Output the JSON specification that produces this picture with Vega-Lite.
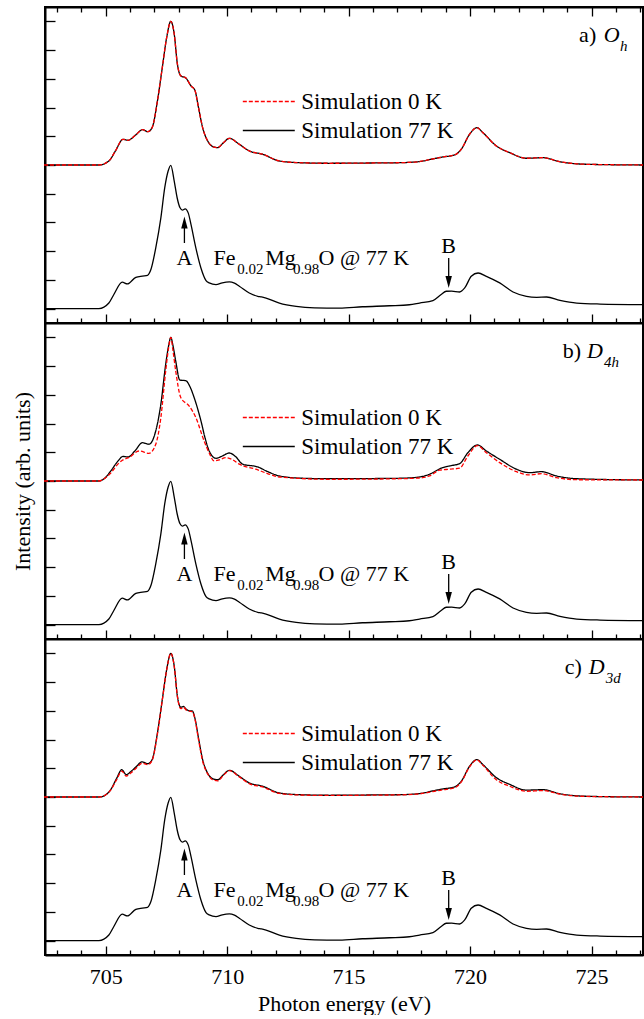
{
"$schema": "https://vega.github.io/schema/vega-lite/v6.json",
"background": "white",
"padding": {"left": 10, "top": 5, "right": 0, "bottom": 0},
"spacing": 0,
"bounds": "flush",
"config": {
  "font": "Liberation Serif, Times New Roman, Times, serif",
  "view": {"stroke": "black", "strokeWidth": 2},
  "axis": {"domainColor": "black", "domainWidth": 2, "tickColor": "black", "tickWidth": 1.3, "grid": false, "tickCount": 100,
           "labelFont": "Liberation Serif, Times New Roman, Times, serif", "labelFontSize": 22, "labelColor": "black",
           "titleFont": "Liberation Serif, Times New Roman, Times, serif", "titleFontSize": 22, "titleFontWeight": "normal", "titleColor": "black"},
  "legend": {"labelFont": "Liberation Serif, Times New Roman, Times, serif"},
  "text": {"font": "Liberation Serif, Times New Roman, Times, serif", "color": "black"}
},
"resolve": {"scale": {"color": "independent", "strokeDash": "independent"}},
"datasets": {
  "exp": [
    {"e":702.46,"i":0},{"e":704.72,"i":0},{"e":705.13,"i":0.039},{"e":705.34,"i":0.10},{"e":705.68,"i":0.184},{"e":705.89,"i":0.172},{"e":706.24,"i":0.218},{"e":706.51,"i":0.227},{"e":706.72,"i":0.232},{"e":706.86,"i":0.272},{"e":707.06,"i":0.423},{"e":707.27,"i":0.632},{"e":707.43,"i":0.842},{"e":707.57,"i":0.958},{"e":707.68,"i":0.998},{"e":707.82,"i":0.888},{"e":707.94,"i":0.772},{"e":708.06,"i":0.702},{"e":708.16,"i":0.686},{"e":708.27,"i":0.695},{"e":708.4,"i":0.665},{"e":708.51,"i":0.586},{"e":708.71,"i":0.423},{"e":708.92,"i":0.283},{"e":709.13,"i":0.195},{"e":709.26,"i":0.179},{"e":709.54,"i":0.167},{"e":709.8,"i":0.18},{"e":710.09,"i":0.186},{"e":710.3,"i":0.177},{"e":710.5,"i":0.156},{"e":710.91,"i":0.109},{"e":711.26,"i":0.086},{"e":711.41,"i":0.082},{"e":711.6,"i":0.074},{"e":712.15,"i":0.039},{"e":712.84,"i":0.016},{"e":713.6,"i":0.006},{"e":714.62,"i":0.004},{"e":715.57,"i":0.013},{"e":716.68,"i":0.02},{"e":717.5,"i":0.027},{"e":717.92,"i":0.039},{"e":718.47,"i":0.056},{"e":718.81,"i":0.098},{"e":719.02,"i":0.121},{"e":719.24,"i":0.122},{"e":719.57,"i":0.116},{"e":719.78,"i":0.144},{"e":720.05,"i":0.225},{"e":720.33,"i":0.248},{"e":720.67,"i":0.225},{"e":721.22,"i":0.179},{"e":721.77,"i":0.116},{"e":722.32,"i":0.086},{"e":722.74,"i":0.079},{"e":723.15,"i":0.081},{"e":723.7,"i":0.058},{"e":724.39,"i":0.039},{"e":725.35,"i":0.032},{"e":727.12,"i":0.028}
  ],
  "sim": [
    {"p":"a","s":"Simulation 77 K","e":702.46,"i":1.0},{"p":"a","s":"Simulation 77 K","e":704.72,"i":1.0},{"p":"a","s":"Simulation 77 K","e":705.13,"i":1.028},{"p":"a","s":"Simulation 77 K","e":705.4,"i":1.098},{"p":"a","s":"Simulation 77 K","e":705.71,"i":1.179},{"p":"a","s":"Simulation 77 K","e":705.92,"i":1.172},{"p":"a","s":"Simulation 77 K","e":706.22,"i":1.207},{"p":"a","s":"Simulation 77 K","e":706.52,"i":1.246},{"p":"a","s":"Simulation 77 K","e":706.73,"i":1.232},{"p":"a","s":"Simulation 77 K","e":706.91,"i":1.26},{"p":"a","s":"Simulation 77 K","e":707.13,"i":1.447},{"p":"a","s":"Simulation 77 K","e":707.33,"i":1.679},{"p":"a","s":"Simulation 77 K","e":707.51,"i":1.888},{"p":"a","s":"Simulation 77 K","e":707.68,"i":2.0},{"p":"a","s":"Simulation 77 K","e":707.82,"i":1.912},{"p":"a","s":"Simulation 77 K","e":707.95,"i":1.703},{"p":"a","s":"Simulation 77 K","e":708.09,"i":1.621},{"p":"a","s":"Simulation 77 K","e":708.3,"i":1.605},{"p":"a","s":"Simulation 77 K","e":708.51,"i":1.551},{"p":"a","s":"Simulation 77 K","e":708.67,"i":1.521},{"p":"a","s":"Simulation 77 K","e":708.82,"i":1.4},{"p":"a","s":"Simulation 77 K","e":708.99,"i":1.26},{"p":"a","s":"Simulation 77 K","e":709.2,"i":1.167},{"p":"a","s":"Simulation 77 K","e":709.4,"i":1.129},{"p":"a","s":"Simulation 77 K","e":709.61,"i":1.121},{"p":"a","s":"Simulation 77 K","e":709.84,"i":1.154},{"p":"a","s":"Simulation 77 K","e":710.09,"i":1.186},{"p":"a","s":"Simulation 77 K","e":710.5,"i":1.144},{"p":"a","s":"Simulation 77 K","e":710.91,"i":1.098},{"p":"a","s":"Simulation 77 K","e":711.46,"i":1.075},{"p":"a","s":"Simulation 77 K","e":712.15,"i":1.028},{"p":"a","s":"Simulation 77 K","e":712.98,"i":1.016},{"p":"a","s":"Simulation 77 K","e":714.22,"i":1.012},{"p":"a","s":"Simulation 77 K","e":715.87,"i":1.014},{"p":"a","s":"Simulation 77 K","e":717.1,"i":1.016},{"p":"a","s":"Simulation 77 K","e":717.92,"i":1.024},{"p":"a","s":"Simulation 77 K","e":718.54,"i":1.045},{"p":"a","s":"Simulation 77 K","e":718.88,"i":1.056},{"p":"a","s":"Simulation 77 K","e":719.36,"i":1.07},{"p":"a","s":"Simulation 77 K","e":719.64,"i":1.11},{"p":"a","s":"Simulation 77 K","e":719.98,"i":1.214},{"p":"a","s":"Simulation 77 K","e":720.28,"i":1.26},{"p":"a","s":"Simulation 77 K","e":720.53,"i":1.225},{"p":"a","s":"Simulation 77 K","e":721.08,"i":1.133},{"p":"a","s":"Simulation 77 K","e":721.63,"i":1.086},{"p":"a","s":"Simulation 77 K","e":722.32,"i":1.047},{"p":"a","s":"Simulation 77 K","e":723.0,"i":1.051},{"p":"a","s":"Simulation 77 K","e":723.69,"i":1.023},{"p":"a","s":"Simulation 77 K","e":724.79,"i":1.005},{"p":"a","s":"Simulation 77 K","e":727.12,"i":1.0},
    {"p":"a","s":"Simulation 0 K","e":702.46,"i":1.0},{"p":"a","s":"Simulation 0 K","e":704.72,"i":1.0},{"p":"a","s":"Simulation 0 K","e":705.13,"i":1.028},{"p":"a","s":"Simulation 0 K","e":705.4,"i":1.098},{"p":"a","s":"Simulation 0 K","e":705.71,"i":1.179},{"p":"a","s":"Simulation 0 K","e":705.92,"i":1.172},{"p":"a","s":"Simulation 0 K","e":706.22,"i":1.207},{"p":"a","s":"Simulation 0 K","e":706.52,"i":1.246},{"p":"a","s":"Simulation 0 K","e":706.73,"i":1.232},{"p":"a","s":"Simulation 0 K","e":706.91,"i":1.26},{"p":"a","s":"Simulation 0 K","e":707.13,"i":1.447},{"p":"a","s":"Simulation 0 K","e":707.33,"i":1.679},{"p":"a","s":"Simulation 0 K","e":707.51,"i":1.888},{"p":"a","s":"Simulation 0 K","e":707.68,"i":2.0},{"p":"a","s":"Simulation 0 K","e":707.82,"i":1.912},{"p":"a","s":"Simulation 0 K","e":707.95,"i":1.703},{"p":"a","s":"Simulation 0 K","e":708.09,"i":1.621},{"p":"a","s":"Simulation 0 K","e":708.3,"i":1.605},{"p":"a","s":"Simulation 0 K","e":708.51,"i":1.551},{"p":"a","s":"Simulation 0 K","e":708.67,"i":1.521},{"p":"a","s":"Simulation 0 K","e":708.82,"i":1.4},{"p":"a","s":"Simulation 0 K","e":708.99,"i":1.26},{"p":"a","s":"Simulation 0 K","e":709.2,"i":1.167},{"p":"a","s":"Simulation 0 K","e":709.4,"i":1.129},{"p":"a","s":"Simulation 0 K","e":709.61,"i":1.121},{"p":"a","s":"Simulation 0 K","e":709.84,"i":1.154},{"p":"a","s":"Simulation 0 K","e":710.09,"i":1.186},{"p":"a","s":"Simulation 0 K","e":710.5,"i":1.144},{"p":"a","s":"Simulation 0 K","e":710.91,"i":1.098},{"p":"a","s":"Simulation 0 K","e":711.46,"i":1.075},{"p":"a","s":"Simulation 0 K","e":712.15,"i":1.028},{"p":"a","s":"Simulation 0 K","e":712.98,"i":1.016},{"p":"a","s":"Simulation 0 K","e":714.22,"i":1.012},{"p":"a","s":"Simulation 0 K","e":715.87,"i":1.014},{"p":"a","s":"Simulation 0 K","e":717.1,"i":1.016},{"p":"a","s":"Simulation 0 K","e":717.92,"i":1.024},{"p":"a","s":"Simulation 0 K","e":718.54,"i":1.045},{"p":"a","s":"Simulation 0 K","e":718.88,"i":1.056},{"p":"a","s":"Simulation 0 K","e":719.36,"i":1.07},{"p":"a","s":"Simulation 0 K","e":719.64,"i":1.11},{"p":"a","s":"Simulation 0 K","e":719.98,"i":1.214},{"p":"a","s":"Simulation 0 K","e":720.28,"i":1.26},{"p":"a","s":"Simulation 0 K","e":720.53,"i":1.225},{"p":"a","s":"Simulation 0 K","e":721.08,"i":1.133},{"p":"a","s":"Simulation 0 K","e":721.63,"i":1.086},{"p":"a","s":"Simulation 0 K","e":722.32,"i":1.047},{"p":"a","s":"Simulation 0 K","e":723.0,"i":1.051},{"p":"a","s":"Simulation 0 K","e":723.69,"i":1.023},{"p":"a","s":"Simulation 0 K","e":724.79,"i":1.005},{"p":"a","s":"Simulation 0 K","e":727.12,"i":1.0},
    {"p":"b","s":"Simulation 77 K","e":702.46,"i":1.0},{"p":"b","s":"Simulation 77 K","e":704.72,"i":1.0},{"p":"b","s":"Simulation 77 K","e":704.92,"i":1.014},{"p":"b","s":"Simulation 77 K","e":705.21,"i":1.07},{"p":"b","s":"Simulation 77 K","e":705.51,"i":1.14},{"p":"b","s":"Simulation 77 K","e":705.71,"i":1.171},{"p":"b","s":"Simulation 77 K","e":705.92,"i":1.167},{"p":"b","s":"Simulation 77 K","e":706.2,"i":1.209},{"p":"b","s":"Simulation 77 K","e":706.51,"i":1.267},{"p":"b","s":"Simulation 77 K","e":706.78,"i":1.256},{"p":"b","s":"Simulation 77 K","e":707.06,"i":1.349},{"p":"b","s":"Simulation 77 K","e":707.27,"i":1.535},{"p":"b","s":"Simulation 77 K","e":707.47,"i":1.814},{"p":"b","s":"Simulation 77 K","e":707.59,"i":1.942},{"p":"b","s":"Simulation 77 K","e":707.68,"i":2.0},{"p":"b","s":"Simulation 77 K","e":707.77,"i":1.942},{"p":"b","s":"Simulation 77 K","e":707.88,"i":1.837},{"p":"b","s":"Simulation 77 K","e":708.05,"i":1.703},{"p":"b","s":"Simulation 77 K","e":708.3,"i":1.698},{"p":"b","s":"Simulation 77 K","e":708.47,"i":1.656},{"p":"b","s":"Simulation 77 K","e":708.64,"i":1.581},{"p":"b","s":"Simulation 77 K","e":708.92,"i":1.419},{"p":"b","s":"Simulation 77 K","e":709.1,"i":1.293},{"p":"b","s":"Simulation 77 K","e":709.26,"i":1.209},{"p":"b","s":"Simulation 77 K","e":709.54,"i":1.158},{"p":"b","s":"Simulation 77 K","e":709.8,"i":1.174},{"p":"b","s":"Simulation 77 K","e":710.09,"i":1.195},{"p":"b","s":"Simulation 77 K","e":710.34,"i":1.171},{"p":"b","s":"Simulation 77 K","e":710.64,"i":1.117},{"p":"b","s":"Simulation 77 K","e":711.26,"i":1.098},{"p":"b","s":"Simulation 77 K","e":711.66,"i":1.066},{"p":"b","s":"Simulation 77 K","e":712.15,"i":1.035},{"p":"b","s":"Simulation 77 K","e":713.11,"i":1.019},{"p":"b","s":"Simulation 77 K","e":714.22,"i":1.016},{"p":"b","s":"Simulation 77 K","e":715.87,"i":1.017},{"p":"b","s":"Simulation 77 K","e":717.1,"i":1.019},{"p":"b","s":"Simulation 77 K","e":717.92,"i":1.028},{"p":"b","s":"Simulation 77 K","e":718.33,"i":1.047},{"p":"b","s":"Simulation 77 K","e":718.81,"i":1.089},{"p":"b","s":"Simulation 77 K","e":719.16,"i":1.105},{"p":"b","s":"Simulation 77 K","e":719.57,"i":1.121},{"p":"b","s":"Simulation 77 K","e":719.91,"i":1.197},{"p":"b","s":"Simulation 77 K","e":720.3,"i":1.251},{"p":"b","s":"Simulation 77 K","e":720.67,"i":1.209},{"p":"b","s":"Simulation 77 K","e":721.22,"i":1.151},{"p":"b","s":"Simulation 77 K","e":721.91,"i":1.082},{"p":"b","s":"Simulation 77 K","e":722.45,"i":1.058},{"p":"b","s":"Simulation 77 K","e":722.94,"i":1.065},{"p":"b","s":"Simulation 77 K","e":723.56,"i":1.035},{"p":"b","s":"Simulation 77 K","e":724.38,"i":1.016},{"p":"b","s":"Simulation 77 K","e":727.12,"i":1.007},
    {"p":"b","s":"Simulation 0 K","e":702.46,"i":1.0},{"p":"b","s":"Simulation 0 K","e":704.72,"i":1.0},{"p":"b","s":"Simulation 0 K","e":704.92,"i":1.014},{"p":"b","s":"Simulation 0 K","e":705.21,"i":1.056},{"p":"b","s":"Simulation 0 K","e":705.51,"i":1.119},{"p":"b","s":"Simulation 0 K","e":705.71,"i":1.147},{"p":"b","s":"Simulation 0 K","e":705.96,"i":1.164},{"p":"b","s":"Simulation 0 K","e":706.37,"i":1.209},{"p":"b","s":"Simulation 0 K","e":706.78,"i":1.193},{"p":"b","s":"Simulation 0 K","e":707.06,"i":1.256},{"p":"b","s":"Simulation 0 K","e":707.27,"i":1.442},{"p":"b","s":"Simulation 0 K","e":707.47,"i":1.768},{"p":"b","s":"Simulation 0 K","e":707.59,"i":1.928},{"p":"b","s":"Simulation 0 K","e":707.68,"i":2.0},{"p":"b","s":"Simulation 0 K","e":707.77,"i":1.907},{"p":"b","s":"Simulation 0 K","e":707.88,"i":1.768},{"p":"b","s":"Simulation 0 K","e":708.09,"i":1.581},{"p":"b","s":"Simulation 0 K","e":708.43,"i":1.523},{"p":"b","s":"Simulation 0 K","e":708.71,"i":1.442},{"p":"b","s":"Simulation 0 K","e":709.05,"i":1.279},{"p":"b","s":"Simulation 0 K","e":709.26,"i":1.195},{"p":"b","s":"Simulation 0 K","e":709.46,"i":1.14},{"p":"b","s":"Simulation 0 K","e":709.67,"i":1.147},{"p":"b","s":"Simulation 0 K","e":709.94,"i":1.163},{"p":"b","s":"Simulation 0 K","e":710.2,"i":1.15},{"p":"b","s":"Simulation 0 K","e":710.5,"i":1.117},{"p":"b","s":"Simulation 0 K","e":711.18,"i":1.082},{"p":"b","s":"Simulation 0 K","e":711.66,"i":1.052},{"p":"b","s":"Simulation 0 K","e":712.15,"i":1.028},{"p":"b","s":"Simulation 0 K","e":714.22,"i":1.012},{"p":"b","s":"Simulation 0 K","e":717.1,"i":1.016},{"p":"b","s":"Simulation 0 K","e":717.92,"i":1.021},{"p":"b","s":"Simulation 0 K","e":718.33,"i":1.035},{"p":"b","s":"Simulation 0 K","e":718.74,"i":1.075},{"p":"b","s":"Simulation 0 K","e":719.16,"i":1.082},{"p":"b","s":"Simulation 0 K","e":719.57,"i":1.089},{"p":"b","s":"Simulation 0 K","e":719.91,"i":1.174},{"p":"b","s":"Simulation 0 K","e":720.3,"i":1.246},{"p":"b","s":"Simulation 0 K","e":720.67,"i":1.197},{"p":"b","s":"Simulation 0 K","e":721.22,"i":1.128},{"p":"b","s":"Simulation 0 K","e":721.91,"i":1.065},{"p":"b","s":"Simulation 0 K","e":722.45,"i":1.042},{"p":"b","s":"Simulation 0 K","e":722.94,"i":1.051},{"p":"b","s":"Simulation 0 K","e":723.56,"i":1.023},{"p":"b","s":"Simulation 0 K","e":724.38,"i":1.009},{"p":"b","s":"Simulation 0 K","e":727.12,"i":1.007},
    {"p":"c","s":"Simulation 77 K","e":702.46,"i":1.0},{"p":"c","s":"Simulation 77 K","e":704.72,"i":1.0},{"p":"c","s":"Simulation 77 K","e":704.95,"i":1.01},{"p":"c","s":"Simulation 77 K","e":705.2,"i":1.05},{"p":"c","s":"Simulation 77 K","e":705.45,"i":1.13},{"p":"c","s":"Simulation 77 K","e":705.66,"i":1.19},{"p":"c","s":"Simulation 77 K","e":705.85,"i":1.155},{"p":"c","s":"Simulation 77 K","e":706.02,"i":1.175},{"p":"c","s":"Simulation 77 K","e":706.25,"i":1.21},{"p":"c","s":"Simulation 77 K","e":706.5,"i":1.245},{"p":"c","s":"Simulation 77 K","e":706.73,"i":1.232},{"p":"c","s":"Simulation 77 K","e":706.91,"i":1.26},{"p":"c","s":"Simulation 77 K","e":707.13,"i":1.447},{"p":"c","s":"Simulation 77 K","e":707.33,"i":1.679},{"p":"c","s":"Simulation 77 K","e":707.51,"i":1.888},{"p":"c","s":"Simulation 77 K","e":707.68,"i":2.0},{"p":"c","s":"Simulation 77 K","e":707.82,"i":1.912},{"p":"c","s":"Simulation 77 K","e":707.95,"i":1.703},{"p":"c","s":"Simulation 77 K","e":708.09,"i":1.625},{"p":"c","s":"Simulation 77 K","e":708.2,"i":1.63},{"p":"c","s":"Simulation 77 K","e":708.32,"i":1.61},{"p":"c","s":"Simulation 77 K","e":708.45,"i":1.6},{"p":"c","s":"Simulation 77 K","e":708.56,"i":1.6},{"p":"c","s":"Simulation 77 K","e":708.67,"i":1.55},{"p":"c","s":"Simulation 77 K","e":708.82,"i":1.41},{"p":"c","s":"Simulation 77 K","e":708.99,"i":1.26},{"p":"c","s":"Simulation 77 K","e":709.2,"i":1.165},{"p":"c","s":"Simulation 77 K","e":709.4,"i":1.128},{"p":"c","s":"Simulation 77 K","e":709.61,"i":1.12},{"p":"c","s":"Simulation 77 K","e":709.84,"i":1.154},{"p":"c","s":"Simulation 77 K","e":710.09,"i":1.186},{"p":"c","s":"Simulation 77 K","e":710.5,"i":1.144},{"p":"c","s":"Simulation 77 K","e":710.91,"i":1.098},{"p":"c","s":"Simulation 77 K","e":711.46,"i":1.075},{"p":"c","s":"Simulation 77 K","e":712.15,"i":1.028},{"p":"c","s":"Simulation 77 K","e":712.98,"i":1.016},{"p":"c","s":"Simulation 77 K","e":714.22,"i":1.012},{"p":"c","s":"Simulation 77 K","e":715.87,"i":1.014},{"p":"c","s":"Simulation 77 K","e":717.1,"i":1.016},{"p":"c","s":"Simulation 77 K","e":717.92,"i":1.024},{"p":"c","s":"Simulation 77 K","e":718.54,"i":1.045},{"p":"c","s":"Simulation 77 K","e":718.88,"i":1.056},{"p":"c","s":"Simulation 77 K","e":719.36,"i":1.07},{"p":"c","s":"Simulation 77 K","e":719.64,"i":1.11},{"p":"c","s":"Simulation 77 K","e":719.98,"i":1.214},{"p":"c","s":"Simulation 77 K","e":720.28,"i":1.26},{"p":"c","s":"Simulation 77 K","e":720.53,"i":1.225},{"p":"c","s":"Simulation 77 K","e":721.08,"i":1.135},{"p":"c","s":"Simulation 77 K","e":721.63,"i":1.088},{"p":"c","s":"Simulation 77 K","e":722.32,"i":1.048},{"p":"c","s":"Simulation 77 K","e":723.0,"i":1.051},{"p":"c","s":"Simulation 77 K","e":723.69,"i":1.023},{"p":"c","s":"Simulation 77 K","e":724.79,"i":1.005},{"p":"c","s":"Simulation 77 K","e":727.12,"i":1.0},
    {"p":"c","s":"Simulation 0 K","e":702.46,"i":1.0},{"p":"c","s":"Simulation 0 K","e":704.72,"i":1.0},{"p":"c","s":"Simulation 0 K","e":704.95,"i":1.01},{"p":"c","s":"Simulation 0 K","e":705.2,"i":1.048},{"p":"c","s":"Simulation 0 K","e":705.45,"i":1.12},{"p":"c","s":"Simulation 0 K","e":705.66,"i":1.18},{"p":"c","s":"Simulation 0 K","e":705.85,"i":1.145},{"p":"c","s":"Simulation 0 K","e":706.02,"i":1.165},{"p":"c","s":"Simulation 0 K","e":706.25,"i":1.2},{"p":"c","s":"Simulation 0 K","e":706.5,"i":1.235},{"p":"c","s":"Simulation 0 K","e":706.73,"i":1.225},{"p":"c","s":"Simulation 0 K","e":706.91,"i":1.255},{"p":"c","s":"Simulation 0 K","e":707.13,"i":1.44},{"p":"c","s":"Simulation 0 K","e":707.33,"i":1.675},{"p":"c","s":"Simulation 0 K","e":707.51,"i":1.885},{"p":"c","s":"Simulation 0 K","e":707.68,"i":2.0},{"p":"c","s":"Simulation 0 K","e":707.82,"i":1.91},{"p":"c","s":"Simulation 0 K","e":707.95,"i":1.7},{"p":"c","s":"Simulation 0 K","e":708.09,"i":1.615},{"p":"c","s":"Simulation 0 K","e":708.2,"i":1.625},{"p":"c","s":"Simulation 0 K","e":708.32,"i":1.605},{"p":"c","s":"Simulation 0 K","e":708.45,"i":1.598},{"p":"c","s":"Simulation 0 K","e":708.56,"i":1.595},{"p":"c","s":"Simulation 0 K","e":708.67,"i":1.545},{"p":"c","s":"Simulation 0 K","e":708.82,"i":1.4},{"p":"c","s":"Simulation 0 K","e":708.99,"i":1.25},{"p":"c","s":"Simulation 0 K","e":709.2,"i":1.16},{"p":"c","s":"Simulation 0 K","e":709.4,"i":1.12},{"p":"c","s":"Simulation 0 K","e":709.61,"i":1.112},{"p":"c","s":"Simulation 0 K","e":709.84,"i":1.15},{"p":"c","s":"Simulation 0 K","e":710.09,"i":1.184},{"p":"c","s":"Simulation 0 K","e":710.5,"i":1.14},{"p":"c","s":"Simulation 0 K","e":710.91,"i":1.093},{"p":"c","s":"Simulation 0 K","e":711.46,"i":1.07},{"p":"c","s":"Simulation 0 K","e":712.15,"i":1.025},{"p":"c","s":"Simulation 0 K","e":712.98,"i":1.014},{"p":"c","s":"Simulation 0 K","e":714.22,"i":1.011},{"p":"c","s":"Simulation 0 K","e":715.87,"i":1.013},{"p":"c","s":"Simulation 0 K","e":717.1,"i":1.015},{"p":"c","s":"Simulation 0 K","e":717.92,"i":1.022},{"p":"c","s":"Simulation 0 K","e":718.54,"i":1.04},{"p":"c","s":"Simulation 0 K","e":718.88,"i":1.05},{"p":"c","s":"Simulation 0 K","e":719.36,"i":1.064},{"p":"c","s":"Simulation 0 K","e":719.64,"i":1.105},{"p":"c","s":"Simulation 0 K","e":719.98,"i":1.21},{"p":"c","s":"Simulation 0 K","e":720.28,"i":1.258},{"p":"c","s":"Simulation 0 K","e":720.53,"i":1.22},{"p":"c","s":"Simulation 0 K","e":721.08,"i":1.12},{"p":"c","s":"Simulation 0 K","e":721.63,"i":1.075},{"p":"c","s":"Simulation 0 K","e":722.32,"i":1.04},{"p":"c","s":"Simulation 0 K","e":723.0,"i":1.045},{"p":"c","s":"Simulation 0 K","e":723.69,"i":1.02},{"p":"c","s":"Simulation 0 K","e":724.79,"i":1.004},{"p":"c","s":"Simulation 0 K","e":727.12,"i":1.0}
  ],
  "letters": [{"e":708.24,"i":0.306,"t":"A"},{"e":719.12,"i":0.387,"t":"B"}],
  "notes": [{"e":709.44,"i":0.306,"t":"Fe"},{"e":711.57,"i":0.306,"t":"Mg"},{"e":713.76,"i":0.306,"t":"O @ 77 K"}],
  "subs": [{"e":710.42,"i":0.24,"t":"0.02"},{"e":712.71,"i":0.24,"t":"0.98"}],
  "shafts": [{"e":708.24,"i":0.457,"i2":0.6},{"e":719.12,"i":0.352,"i2":0.19}],
  "headsUp": [{"e":708.24,"i":0.642}],
  "headsDown": [{"e":719.12,"i":0.143}],
  "plabels": [{"p":"a","e":724.49,"i":1.854,"t":"a)"},{"p":"b","e":723.82,"i":1.854,"t":"b)"},{"p":"c","e":723.9,"i":1.854,"t":"c)"}],
  "psymbols": [{"p":"a","e":725.5,"i":1.854,"t":"O"},{"p":"b","e":724.81,"i":1.854,"t":"D"},{"p":"c","e":724.89,"i":1.854,"t":"D"}],
  "psubs": [{"p":"a","e":726.17,"i":1.792,"t":"h"},{"p":"b","e":725.51,"i":1.792,"t":"4h"},{"p":"c","e":725.59,"i":1.792,"t":"3d"}]
},
"vconcat": [
  {
    "width": 598, "height": 316,
    "resolve": {"axis": {"x": "independent"}},
    "layer": [
      {"data": {"name": "exp"}, "mark": {"type": "line", "color": "black", "strokeWidth": 1.3, "interpolate": "monotone"},
       "encoding": {
         "x": {"field": "e", "type": "quantitative", "scale": {"domain": [702.5, 727.12], "nice": false, "zero": false},
               "axis": {"orient": "bottom", "values": [703,704,705,706,707,708,709,710,711,712,713,714,715,716,717,718,719,720,721,722,723,724,725,726,727], "labels": false, "title": null, "tickSize": {"condition": {"test": "datum.value % 5 === 0", "value": -9}, "value": -5}}},
         "y": {"field": "i", "type": "quantitative", "scale": {"domain": [-0.1, 2.1], "nice": false, "zero": false},
               "axis": {"values": [0,0.2,0.4,0.6,0.8,1.0,1.2,1.4,1.6,1.8,2.0], "labels": false, "title": null, "tickSize": -10}}}},
      {"data": {"name": "sim"}, "transform": [{"filter": "datum.p === 'a' && datum.s === 'Simulation 77 K'"}],
       "mark": {"type": "line", "strokeWidth": 1.3, "interpolate": "monotone"},
       "encoding": {
         "x": {"field": "e", "type": "quantitative", "axis": {"orient": "top", "values": [703,704,705,706,707,708,709,710,711,712,713,714,715,716,717,718,719,720,721,722,723,724,725,726,727], "labels": false, "title": null, "tickSize": {"condition": {"test": "datum.value % 5 === 0", "value": -9}, "value": -5}}},
         "y": {"field": "i", "type": "quantitative"},
         "color": {"field": "s", "type": "nominal", "scale": {"domain": ["Simulation 0 K", "Simulation 77 K"], "range": ["#ff0000", "#000000"]},
                   "legend": {"orient": "none", "legendX": 195, "legendY": 83, "title": null, "symbolType": "M-3,0L3,0", "symbolSize": 300, "symbolStrokeWidth": 1.3, "symbolFillColor": "transparent", "symbolOffset": 17.3, "labelFontSize": 23, "labelColor": "black", "labelOffset": 21, "labelBaseline": "middle", "rowPadding": 5, "padding": 0}},
         "strokeDash": {"field": "s", "type": "nominal", "scale": {"domain": ["Simulation 0 K", "Simulation 77 K"], "range": [[4, 2], [1, 0]]},
                   "legend": {"orient": "none", "legendX": 195, "legendY": 83, "title": null, "symbolType": "M-3,0L3,0", "symbolSize": 300, "symbolStrokeWidth": 1.3, "symbolFillColor": "transparent", "symbolOffset": 17.3, "labelFontSize": 23, "labelColor": "black", "labelOffset": 21, "labelBaseline": "middle", "rowPadding": 5, "padding": 0}}}},
      {"data": {"name": "sim"}, "transform": [{"filter": "datum.p === 'a' && datum.s === 'Simulation 0 K'"}],
       "mark": {"type": "line", "strokeWidth": 1.3, "interpolate": "monotone"},
       "encoding": {
         "x": {"field": "e", "type": "quantitative", "axis": null},
         "y": {"field": "i", "type": "quantitative"},
         "color": {"field": "s", "type": "nominal"},
         "strokeDash": {"field": "s", "type": "nominal"}}},
      {"data": {"name": "shafts"}, "mark": {"type": "rule", "color": "black", "strokeWidth": 1.3},
       "encoding": {"x": {"field": "e", "type": "quantitative", "axis": null}, "y": {"field": "i", "type": "quantitative"}, "y2": {"field": "i2"}}},
      {"data": {"name": "headsUp"}, "mark": {"type": "point", "filled": true, "color": "black", "opacity": 1, "size": 576, "shape": "M0,0L-0.27,1L0.27,1Z"},
       "encoding": {"x": {"field": "e", "type": "quantitative", "axis": null}, "y": {"field": "i", "type": "quantitative"}}},
      {"data": {"name": "headsDown"}, "mark": {"type": "point", "filled": true, "color": "black", "opacity": 1, "size": 576, "shape": "M0,0L-0.27,-1L0.27,-1Z"},
       "encoding": {"x": {"field": "e", "type": "quantitative", "axis": null}, "y": {"field": "i", "type": "quantitative"}}},
      {"data": {"name": "letters"}, "mark": {"type": "text", "fontSize": 22, "align": "center", "baseline": "alphabetic"},
       "encoding": {"x": {"field": "e", "type": "quantitative", "axis": null}, "y": {"field": "i", "type": "quantitative"}, "text": {"field": "t"}}},
      {"data": {"name": "notes"}, "mark": {"type": "text", "fontSize": 22, "align": "left", "baseline": "alphabetic"},
       "encoding": {"x": {"field": "e", "type": "quantitative", "axis": null}, "y": {"field": "i", "type": "quantitative"}, "text": {"field": "t"}}},
      {"data": {"name": "subs"}, "mark": {"type": "text", "fontSize": 15, "align": "left", "baseline": "alphabetic"},
       "encoding": {"x": {"field": "e", "type": "quantitative", "axis": null}, "y": {"field": "i", "type": "quantitative"}, "text": {"field": "t"}}},
      {"data": {"name": "plabels"}, "transform": [{"filter": "datum.p === 'a'"}], "mark": {"type": "text", "fontSize": 22, "align": "left", "baseline": "alphabetic"},
       "encoding": {"x": {"field": "e", "type": "quantitative", "axis": null}, "y": {"field": "i", "type": "quantitative"}, "text": {"field": "t"}}},
      {"data": {"name": "psymbols"}, "transform": [{"filter": "datum.p === 'a'"}], "mark": {"type": "text", "fontSize": 22, "fontStyle": "italic", "align": "left", "baseline": "alphabetic"},
       "encoding": {"x": {"field": "e", "type": "quantitative", "axis": null}, "y": {"field": "i", "type": "quantitative"}, "text": {"field": "t"}}},
      {"data": {"name": "psubs"}, "transform": [{"filter": "datum.p === 'a'"}], "mark": {"type": "text", "fontSize": 15, "fontStyle": "italic", "align": "left", "baseline": "alphabetic"},
       "encoding": {"x": {"field": "e", "type": "quantitative", "axis": null}, "y": {"field": "i", "type": "quantitative"}, "text": {"field": "t"}}}
    ]
  },
  {
    "width": 598, "height": 316,
    "layer": [
      {"data": {"name": "exp"}, "mark": {"type": "line", "color": "black", "strokeWidth": 1.3, "interpolate": "monotone"},
       "encoding": {
         "x": {"field": "e", "type": "quantitative", "scale": {"domain": [702.5, 727.12], "nice": false, "zero": false},
               "axis": {"orient": "bottom", "values": [703,704,705,706,707,708,709,710,711,712,713,714,715,716,717,718,719,720,721,722,723,724,725,726,727], "labels": false, "title": null, "tickSize": {"condition": {"test": "datum.value % 5 === 0", "value": -9}, "value": -5}}},
         "y": {"field": "i", "type": "quantitative", "scale": {"domain": [-0.1, 2.1], "nice": false, "zero": false},
               "axis": {"values": [0,0.2,0.4,0.6,0.8,1.0,1.2,1.4,1.6,1.8,2.0], "labels": false, "title": "Intensity (arb. units)", "titlePadding": 10, "tickSize": -10}}}},
      {"data": {"name": "sim"}, "transform": [{"filter": "datum.p === 'b' && datum.s === 'Simulation 77 K'"}],
       "mark": {"type": "line", "strokeWidth": 1.3, "interpolate": "monotone"},
       "encoding": {
         "x": {"field": "e", "type": "quantitative"},
         "y": {"field": "i", "type": "quantitative"},
         "color": {"field": "s", "type": "nominal", "scale": {"domain": ["Simulation 0 K", "Simulation 77 K"], "range": ["#ff0000", "#000000"]},
                   "legend": {"orient": "none", "legendX": 195, "legendY": 83, "title": null, "symbolType": "M-3,0L3,0", "symbolSize": 300, "symbolStrokeWidth": 1.3, "symbolFillColor": "transparent", "symbolOffset": 17.3, "labelFontSize": 23, "labelColor": "black", "labelOffset": 21, "labelBaseline": "middle", "rowPadding": 5, "padding": 0}},
         "strokeDash": {"field": "s", "type": "nominal", "scale": {"domain": ["Simulation 0 K", "Simulation 77 K"], "range": [[4, 2], [1, 0]]},
                   "legend": {"orient": "none", "legendX": 195, "legendY": 83, "title": null, "symbolType": "M-3,0L3,0", "symbolSize": 300, "symbolStrokeWidth": 1.3, "symbolFillColor": "transparent", "symbolOffset": 17.3, "labelFontSize": 23, "labelColor": "black", "labelOffset": 21, "labelBaseline": "middle", "rowPadding": 5, "padding": 0}}}},
      {"data": {"name": "sim"}, "transform": [{"filter": "datum.p === 'b' && datum.s === 'Simulation 0 K'"}],
       "mark": {"type": "line", "strokeWidth": 1.3, "interpolate": "monotone"},
       "encoding": {
         "x": {"field": "e", "type": "quantitative"},
         "y": {"field": "i", "type": "quantitative"},
         "color": {"field": "s", "type": "nominal"},
         "strokeDash": {"field": "s", "type": "nominal"}}},
      {"data": {"name": "shafts"}, "mark": {"type": "rule", "color": "black", "strokeWidth": 1.3},
       "encoding": {"x": {"field": "e", "type": "quantitative"}, "y": {"field": "i", "type": "quantitative"}, "y2": {"field": "i2"}}},
      {"data": {"name": "headsUp"}, "mark": {"type": "point", "filled": true, "color": "black", "opacity": 1, "size": 576, "shape": "M0,0L-0.27,1L0.27,1Z"},
       "encoding": {"x": {"field": "e", "type": "quantitative"}, "y": {"field": "i", "type": "quantitative"}}},
      {"data": {"name": "headsDown"}, "mark": {"type": "point", "filled": true, "color": "black", "opacity": 1, "size": 576, "shape": "M0,0L-0.27,-1L0.27,-1Z"},
       "encoding": {"x": {"field": "e", "type": "quantitative"}, "y": {"field": "i", "type": "quantitative"}}},
      {"data": {"name": "letters"}, "mark": {"type": "text", "fontSize": 22, "align": "center", "baseline": "alphabetic"},
       "encoding": {"x": {"field": "e", "type": "quantitative"}, "y": {"field": "i", "type": "quantitative"}, "text": {"field": "t"}}},
      {"data": {"name": "notes"}, "mark": {"type": "text", "fontSize": 22, "align": "left", "baseline": "alphabetic"},
       "encoding": {"x": {"field": "e", "type": "quantitative"}, "y": {"field": "i", "type": "quantitative"}, "text": {"field": "t"}}},
      {"data": {"name": "subs"}, "mark": {"type": "text", "fontSize": 15, "align": "left", "baseline": "alphabetic"},
       "encoding": {"x": {"field": "e", "type": "quantitative"}, "y": {"field": "i", "type": "quantitative"}, "text": {"field": "t"}}},
      {"data": {"name": "plabels"}, "transform": [{"filter": "datum.p === 'b'"}], "mark": {"type": "text", "fontSize": 22, "align": "left", "baseline": "alphabetic"},
       "encoding": {"x": {"field": "e", "type": "quantitative"}, "y": {"field": "i", "type": "quantitative"}, "text": {"field": "t"}}},
      {"data": {"name": "psymbols"}, "transform": [{"filter": "datum.p === 'b'"}], "mark": {"type": "text", "fontSize": 22, "fontStyle": "italic", "align": "left", "baseline": "alphabetic"},
       "encoding": {"x": {"field": "e", "type": "quantitative"}, "y": {"field": "i", "type": "quantitative"}, "text": {"field": "t"}}},
      {"data": {"name": "psubs"}, "transform": [{"filter": "datum.p === 'b'"}], "mark": {"type": "text", "fontSize": 15, "fontStyle": "italic", "align": "left", "baseline": "alphabetic"},
       "encoding": {"x": {"field": "e", "type": "quantitative"}, "y": {"field": "i", "type": "quantitative"}, "text": {"field": "t"}}}
    ]
  },
  {
    "width": 598, "height": 316,
    "layer": [
      {"data": {"name": "exp"}, "mark": {"type": "line", "color": "black", "strokeWidth": 1.3, "interpolate": "monotone"},
       "encoding": {
         "x": {"field": "e", "type": "quantitative", "scale": {"domain": [702.5, 727.12], "nice": false, "zero": false},
               "axis": {"orient": "bottom", "values": [703,704,705,706,707,708,709,710,711,712,713,714,715,716,717,718,719,720,721,722,723,724,725,726,727], "labelExpr": "datum.value % 5 === 0 ? datum.label : ''", "labelOverlap": false, "labelPadding": 20, "format": "d", "title": "Photon energy (eV)", "titlePadding": 2, "tickSize": {"condition": {"test": "datum.value % 5 === 0", "value": -9}, "value": -5}}},
         "y": {"field": "i", "type": "quantitative", "scale": {"domain": [-0.1, 2.1], "nice": false, "zero": false},
               "axis": {"values": [0,0.2,0.4,0.6,0.8,1.0,1.2,1.4,1.6,1.8,2.0], "labels": false, "title": null, "tickSize": -10}}}},
      {"data": {"name": "sim"}, "transform": [{"filter": "datum.p === 'c' && datum.s === 'Simulation 77 K'"}],
       "mark": {"type": "line", "strokeWidth": 1.3, "interpolate": "monotone"},
       "encoding": {
         "x": {"field": "e", "type": "quantitative"},
         "y": {"field": "i", "type": "quantitative"},
         "color": {"field": "s", "type": "nominal", "scale": {"domain": ["Simulation 0 K", "Simulation 77 K"], "range": ["#ff0000", "#000000"]},
                   "legend": {"orient": "none", "legendX": 195, "legendY": 83, "title": null, "symbolType": "M-3,0L3,0", "symbolSize": 300, "symbolStrokeWidth": 1.3, "symbolFillColor": "transparent", "symbolOffset": 17.3, "labelFontSize": 23, "labelColor": "black", "labelOffset": 21, "labelBaseline": "middle", "rowPadding": 5, "padding": 0}},
         "strokeDash": {"field": "s", "type": "nominal", "scale": {"domain": ["Simulation 0 K", "Simulation 77 K"], "range": [[4, 2], [1, 0]]},
                   "legend": {"orient": "none", "legendX": 195, "legendY": 83, "title": null, "symbolType": "M-3,0L3,0", "symbolSize": 300, "symbolStrokeWidth": 1.3, "symbolFillColor": "transparent", "symbolOffset": 17.3, "labelFontSize": 23, "labelColor": "black", "labelOffset": 21, "labelBaseline": "middle", "rowPadding": 5, "padding": 0}}}},
      {"data": {"name": "sim"}, "transform": [{"filter": "datum.p === 'c' && datum.s === 'Simulation 0 K'"}],
       "mark": {"type": "line", "strokeWidth": 1.3, "interpolate": "monotone"},
       "encoding": {
         "x": {"field": "e", "type": "quantitative"},
         "y": {"field": "i", "type": "quantitative"},
         "color": {"field": "s", "type": "nominal"},
         "strokeDash": {"field": "s", "type": "nominal"}}},
      {"data": {"name": "shafts"}, "mark": {"type": "rule", "color": "black", "strokeWidth": 1.3},
       "encoding": {"x": {"field": "e", "type": "quantitative"}, "y": {"field": "i", "type": "quantitative"}, "y2": {"field": "i2"}}},
      {"data": {"name": "headsUp"}, "mark": {"type": "point", "filled": true, "color": "black", "opacity": 1, "size": 576, "shape": "M0,0L-0.27,1L0.27,1Z"},
       "encoding": {"x": {"field": "e", "type": "quantitative"}, "y": {"field": "i", "type": "quantitative"}}},
      {"data": {"name": "headsDown"}, "mark": {"type": "point", "filled": true, "color": "black", "opacity": 1, "size": 576, "shape": "M0,0L-0.27,-1L0.27,-1Z"},
       "encoding": {"x": {"field": "e", "type": "quantitative"}, "y": {"field": "i", "type": "quantitative"}}},
      {"data": {"name": "letters"}, "mark": {"type": "text", "fontSize": 22, "align": "center", "baseline": "alphabetic"},
       "encoding": {"x": {"field": "e", "type": "quantitative"}, "y": {"field": "i", "type": "quantitative"}, "text": {"field": "t"}}},
      {"data": {"name": "notes"}, "mark": {"type": "text", "fontSize": 22, "align": "left", "baseline": "alphabetic"},
       "encoding": {"x": {"field": "e", "type": "quantitative"}, "y": {"field": "i", "type": "quantitative"}, "text": {"field": "t"}}},
      {"data": {"name": "subs"}, "mark": {"type": "text", "fontSize": 15, "align": "left", "baseline": "alphabetic"},
       "encoding": {"x": {"field": "e", "type": "quantitative"}, "y": {"field": "i", "type": "quantitative"}, "text": {"field": "t"}}},
      {"data": {"name": "plabels"}, "transform": [{"filter": "datum.p === 'c'"}], "mark": {"type": "text", "fontSize": 22, "align": "left", "baseline": "alphabetic"},
       "encoding": {"x": {"field": "e", "type": "quantitative"}, "y": {"field": "i", "type": "quantitative"}, "text": {"field": "t"}}},
      {"data": {"name": "psymbols"}, "transform": [{"filter": "datum.p === 'c'"}], "mark": {"type": "text", "fontSize": 22, "fontStyle": "italic", "align": "left", "baseline": "alphabetic"},
       "encoding": {"x": {"field": "e", "type": "quantitative"}, "y": {"field": "i", "type": "quantitative"}, "text": {"field": "t"}}},
      {"data": {"name": "psubs"}, "transform": [{"filter": "datum.p === 'c'"}], "mark": {"type": "text", "fontSize": 15, "fontStyle": "italic", "align": "left", "baseline": "alphabetic"},
       "encoding": {"x": {"field": "e", "type": "quantitative"}, "y": {"field": "i", "type": "quantitative"}, "text": {"field": "t"}}}
    ]
  }
]
}
